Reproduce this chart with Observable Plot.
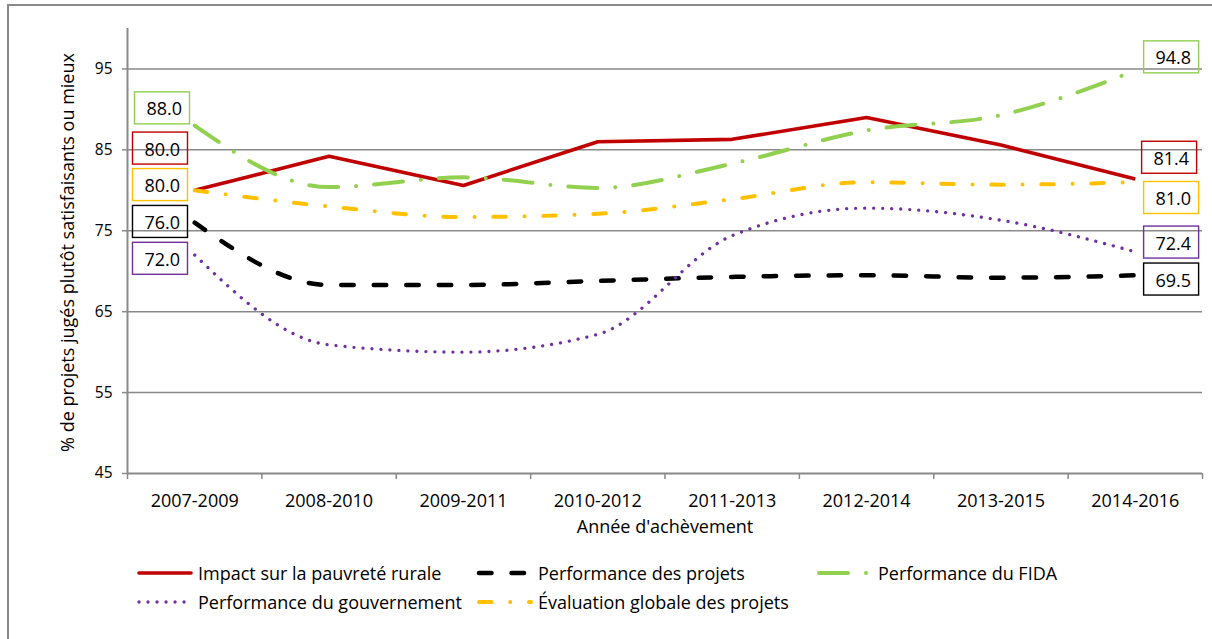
<!DOCTYPE html>
<html>
<head>
<meta charset="utf-8">
<script src="https://cdn.jsdelivr.net/npm/d3@7"></script>
<script src="https://cdn.jsdelivr.net/npm/@observablehq/plot@0.6"></script>
<style>
html, body { margin: 0; padding: 0; background: #fff; overflow: hidden; width: 1212px; height: 639px; }
#frame { position: absolute; left: 7px; top: 4px; width: 1300px; height: 700px; border-left: 2px solid #898989; border-top: 2px solid #898989; }
#chart { position: absolute; left: 0; top: 0; }
#legend { position: absolute; left: 0; top: 0; width: 1212px; height: 639px; font-family: "Open Sans"; font-size: 18px; color: #000; pointer-events: none; }
.item { position: absolute; display: flex; align-items: center; height: 28px; white-space: nowrap; }
.item svg { display: block; margin-right: 5px; overflow: visible; }
</style>
</head>
<body>
<div id="frame"></div>
<div id="chart"></div>
<div id="legend"></div>
<script>
// ---- data ----
const categories = ["2007-2009", "2008-2010", "2009-2011", "2010-2012", "2011-2013", "2012-2014", "2013-2015", "2014-2016"];
const impact       = [80.0, 84.2, 80.6, 86.0, 86.3, 89.0, 85.6, 81.4];
const projets      = [76.0, 68.3, 68.3, 68.8, 69.3, 69.5, 69.2, 69.5];
const fida         = [88.0, 80.4, 81.6, 80.3, 83.3, 87.4, 89.3, 94.8];
const gouvernement = [72.0, 60.9, 60.0, 62.2, 74.4, 77.8, 76.3, 72.4];
const evaluation   = [80.0, 78.0, 76.7, 77.1, 78.9, 81.0, 80.7, 81.0];
const seriesNames  = ["Impact sur la pauvreté rurale", "Performance des projets", "Performance du FIDA", "Performance du gouvernement", "Évaluation globale des projets"];
const yTicks = [45, 55, 65, 75, 85, 95];
const yDomain = [45, 100];
const yTitle = "% de projets jugés plutôt satisfaisants ou mieux";
const xTitle = "Année d'achèvement";

// ---- styles (drawing order = Excel series order) ----
const series = [
  {name: seriesNames[0], values: impact, color: "#C00000", width: 3.6, dash: null, curve: "linear",
   left: {dx: -32.5, dy: -40.5}, right: {dx: 36, dy: -20}},
  {name: seriesNames[1], values: projets, color: "#000000", width: 4.5, dash: "12.5,20", curve: "monotone-x",
   left: {dx: -32.5, dy: 0.5}, right: {dx: 38, dy: 5.5}},
  {name: seriesNames[2], values: fida, color: "#92D050", width: 4, dash: "29,18,0.01,18", curve: "monotone-x",
   left: {dx: -30.5, dy: -16}, right: {dx: 38, dy: -12}},
  {name: seriesNames[3], values: gouvernement, color: "#7030A0", width: 3.3, dash: "0.01,9", curve: "monotone-x",
   left: {dx: -32.5, dy: 5}, right: {dx: 38, dy: -8}},
  {name: seriesNames[4], values: evaluation, color: "#FFC000", width: 4, dash: "12.5,18.75,0.01,18.75", curve: "monotone-x",
   left: {dx: -32.5, dy: -4}, right: {dx: 38, dy: 17}}
];

const n = categories.length;
const xDomain = [-0.5, n - 0.5];
const gray = "#898989";

const lineMarks = series.map(s => Plot.line(s.values.map((v, i) => ({i, v})), {
  x: "i", y: "v", stroke: s.color, strokeWidth: s.width,
  strokeDasharray: s.dash || undefined, strokeLinecap: s.dash ? "round" : "butt", strokeLinejoin: "round",
  curve: s.curve
}));

const boxColors = [];
const labelMarks = [];
for (const s of series) {
  const first = {i: 0, v: s.values[0]};
  const last = {i: n - 1, v: s.values[n - 1]};
  labelMarks.push(Plot.text([first], {x: "i", y: "v", text: d => d.v.toFixed(1), dx: s.left.dx, dy: s.left.dy, fontSize: 18, fill: "#000"}));
  boxColors.push(s.color);
  labelMarks.push(Plot.text([last], {x: "i", y: "v", text: d => d.v.toFixed(1), dx: s.right.dx, dy: s.right.dy, fontSize: 18, fill: "#000"}));
  boxColors.push(s.color);
}

const chart = Plot.plot({
  width: 1212,
  height: 545,
  marginLeft: 127,
  marginRight: 10,
  marginTop: 28,
  marginBottom: 72,
  style: {fontFamily: "Open Sans", fontSize: "15px", color: "#000", background: "transparent", overflow: "visible"},
  x: {type: "linear", domain: xDomain, axis: null},
  y: {type: "linear", domain: yDomain, axis: null},
  marks: [
    Plot.ruleY(yTicks.filter(t => t > yDomain[0]), {stroke: gray, strokeWidth: 1.5}),
    Plot.ruleY([yDomain[0]], {stroke: gray, strokeWidth: 2}),
    Plot.ruleX([xDomain[0]], {stroke: gray, strokeWidth: 2}),
    Plot.axisY({ticks: yTicks, tickSize: 5, tickPadding: 10, stroke: gray, strokeWidth: 1.5, fontSize: 15.5, label: null, tickFormat: d => String(d)}),
    Plot.axisX({ticks: d3.range(n), tickFormat: i => categories[i], tickSize: 0, tickPadding: 21, fontSize: 18, label: null}),
    Plot.axisX({ticks: d3.range(n + 1).map(i => i - 0.5), tickSize: 6, tickFormat: () => "", stroke: gray, strokeWidth: 1.5, label: null}),
    ...lineMarks,
    ...labelMarks,
    Plot.text([yTitle], {frameAnchor: "left", textAnchor: "middle", rotate: -90, dx: -59, dy: 1.5, fontSize: 18, fill: "#000"}),
    Plot.text([xTitle], {frameAnchor: "bottom", dy: 59.5, fontSize: 18, fill: "#000"})
  ]
});
document.getElementById("chart").append(chart);

// boxes around the value labels
const svg = chart.tagName.toLowerCase() === "svg" ? chart : chart.querySelector("svg");
const sr = svg.getBoundingClientRect();
const groups = svg.querySelectorAll('g[aria-label="text"]');
boxColors.forEach((c, k) => {
  const t = groups[k] && groups[k].querySelector("text");
  if (!t) return;
  const r = t.getBoundingClientRect();
  const cx = (r.left + r.right) / 2 - sr.left;
  const cy = (r.top + r.bottom) / 2 - sr.top;
  const rect = document.createElementNS("http://www.w3.org/2000/svg", "rect");
  rect.setAttribute("x", cx - 29.7);
  rect.setAttribute("y", cy - 16.5);
  rect.setAttribute("width", 55);
  rect.setAttribute("height", 32);
  rect.setAttribute("fill", "none");
  rect.setAttribute("stroke", c);
  rect.setAttribute("stroke-width", 1.4);
  svg.append(rect);
});

// legend
const legendPos = [
  {col: 137, row: 573}, {col: 477, row: 573}, {col: 817, row: 573},
  {col: 137, row: 602}, {col: 477, row: 602}
];
const legendOrder = [0, 1, 2, 3, 4];
const legend = document.getElementById("legend");
legendOrder.forEach((si, k) => {
  const s = series[si];
  const p = legendPos[k];
  const item = document.createElement("div");
  item.className = "item";
  item.style.left = p.col + "px";
  item.style.top = (p.row - 14) + "px";
  const sw = document.createElementNS("http://www.w3.org/2000/svg", "svg");
  sw.setAttribute("width", 56);
  sw.setAttribute("height", 10);
  const ln = document.createElementNS("http://www.w3.org/2000/svg", "line");
  ln.setAttribute("x1", 2); ln.setAttribute("x2", 54);
  ln.setAttribute("y1", 5); ln.setAttribute("y2", 5);
  ln.setAttribute("stroke", s.color);
  ln.setAttribute("stroke-width", s.width);
  ln.setAttribute("stroke-linecap", "round");
  if (s.dash) ln.setAttribute("stroke-dasharray", s.dash);
  sw.append(ln);
  item.append(sw);
  const label = document.createElement("span");
  label.textContent = s.name;
  item.append(label);
  legend.append(item);
});
</script>
</body>
</html>
